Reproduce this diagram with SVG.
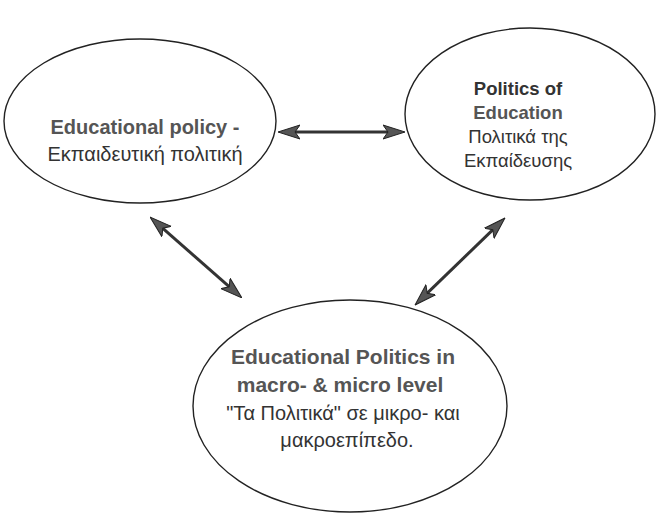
<svg xmlns="http://www.w3.org/2000/svg" width="661" height="516" viewBox="0 0 661 516">
<style>
.ell{fill:#fff;stroke:#222;stroke-width:1.4}
.t{font-family:"Liberation Sans",Arial,sans-serif;font-size:20px;text-anchor:middle}
.s{font-size:18.5px}
.b{font-weight:bold;fill:#555}
.d{font-weight:bold;fill:#333}
.r{fill:#333}
.c{stroke:#333;stroke-width:3;fill:none;marker-start:url(#ah);marker-end:url(#ah)}
</style>
<defs>
<marker id="ah" viewBox="0 0 22 16" refX="11" refY="8" markerWidth="22" markerHeight="16" markerUnits="userSpaceOnUse" orient="auto-start-reverse">
<path d="M0,1 L22,8 L0,15 L5,8 Z" fill="#555" stroke="#222" stroke-width="1"/>
</marker>
</defs>
<rect width="661" height="516" fill="#fff"/>
<g id="connectors">
<line class="c" x1="289" y1="132" x2="394" y2="132"/>
<line class="c" x1="158.3" y1="224.3" x2="233.7" y2="290.7"/>
<line class="c" x1="497.1" y1="225.6" x2="422.9" y2="297.4"/>
</g>
<g id="policy">
<ellipse class="ell" cx="140" cy="121" rx="136" ry="82"/>
<text class="t b" x="145" y="134">Educational policy -</text>
<text class="t r" x="145" y="161">Εκπαιδευτική πολιτική</text>
</g>
<g id="politics-of-education">
<ellipse class="ell" cx="530" cy="114" rx="125" ry="86"/>
<text class="t s d" x="518" y="95">Politics of</text>
<text class="t s b" x="518" y="119">Education</text>
<text class="t s r" x="518" y="143">Πολιτικά της</text>
<text class="t s r" x="518" y="167">Εκπαίδευσης</text>
</g>
<g id="educational-politics">
<ellipse class="ell" cx="350" cy="406" rx="157" ry="106"/>
<text class="t b" x="343" y="364" style="font-size:21px">Educational Politics in</text>
<text class="t b" x="340" y="392" style="font-size:21px">macro- &amp; micro level</text>
<text class="t r" x="343" y="420">"Τα Πολιτικά" σε μικρο- και</text>
<text class="t r" x="347" y="447">μακροεπίπεδο.</text>
</g>
</svg>
